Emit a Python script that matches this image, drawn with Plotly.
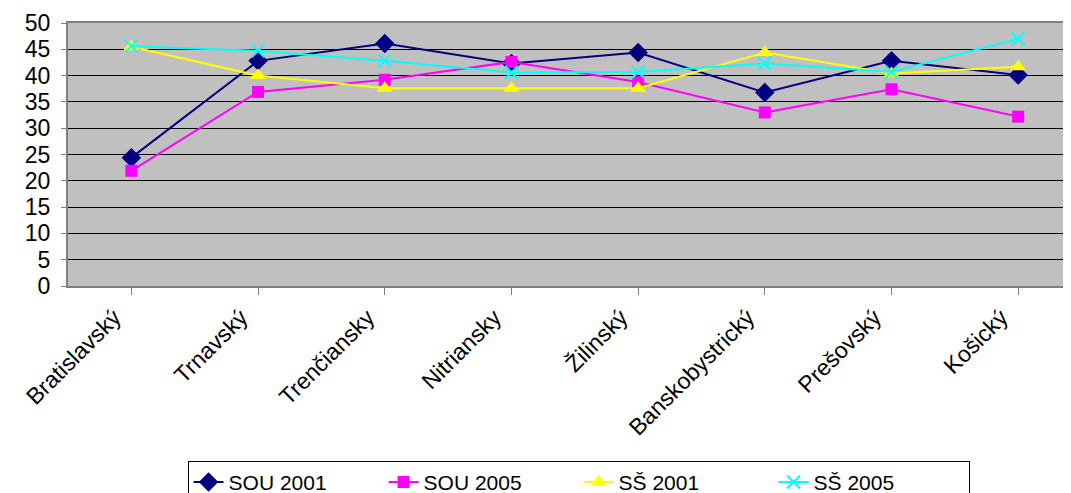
import plotly.graph_objects as go

categories = ["Bratislavský", "Trnavský", "Trenčiansky", "Nitriansky", "Žilinský",
              "Banskobystrický", "Prešovský", "Košický"]
sou_2001 = [24.4, 42.8, 46.1, 42.3, 44.4, 36.8, 42.8, 40.1]
sou_2005 = [21.9, 36.9, 39.2, 42.6, 38.8, 33.0, 37.4, 32.2]
ss_2001 = [45.5, 40.0, 37.6, 37.6, 37.6, 44.4, 40.4, 41.7]
ss_2005 = [45.6, 44.7, 42.8, 40.6, 40.7, 42.3, 40.7, 47.0]

series = [
    ("SOU 2001", sou_2001, "#000080", "diamond", 15),
    ("SOU 2005", sou_2005, "#FF00FF", "square", 12),
    ("SŠ 2001", ss_2001, "#FFFF00", "triangle-up", 14),
    ("SŠ 2005", ss_2005, "#00FFFF", "x-thin", 13),
]

fig = go.Figure()
for name, vals, color, sym, size in series:
    marker = dict(symbol=sym, size=size, color=color)
    if sym == "x-thin":
        marker["line"] = dict(color=color, width=2)
    fig.add_trace(go.Scatter(
        x=list(range(len(categories))), y=vals, name=name, mode="lines+markers",
        line=dict(color=color, width=2), marker=marker,
    ))

font = "Liberation Sans, Arial, sans-serif"
fig.update_layout(
    width=1071, height=493,
    margin=dict(l=60, r=0, t=15, b=215, autoexpand=False),
    paper_bgcolor="white", plot_bgcolor="#C0C0C0",
    font=dict(family=font, size=23, color="black"),
    showlegend=True,
    legend=dict(orientation="h", x=0.505, xanchor="center", y=-0.665, yanchor="top",
                bordercolor="black", borderwidth=1, bgcolor="white",
                font=dict(size=21), entrywidth=150, tracegroupgap=0),
    xaxis=dict(
        tickmode="array", tickvals=list(range(len(categories))), ticktext=categories,
        range=[-0.5, 7.48], tickangle=-45, showgrid=False, zeroline=False,
        showline=True, linecolor="#808080", linewidth=2, mirror=True,
        ticks="outside", ticklen=7, tickcolor="#808080", tickson="boundaries",
        tickfont=dict(size=23), ticklabelshift=-17, automargin=False,
    ),
    yaxis=dict(
        range=[0, 50], dtick=5, showgrid=True, gridcolor="black", gridwidth=1,
        zeroline=False, showline=True, linecolor="#808080", linewidth=2,
        ticks="outside", ticklen=5, tickcolor="#808080", tickfont=dict(size=23),
        ticklabelstandoff=6, automargin=False,
    ),
)
fig.write_html("out.html")
